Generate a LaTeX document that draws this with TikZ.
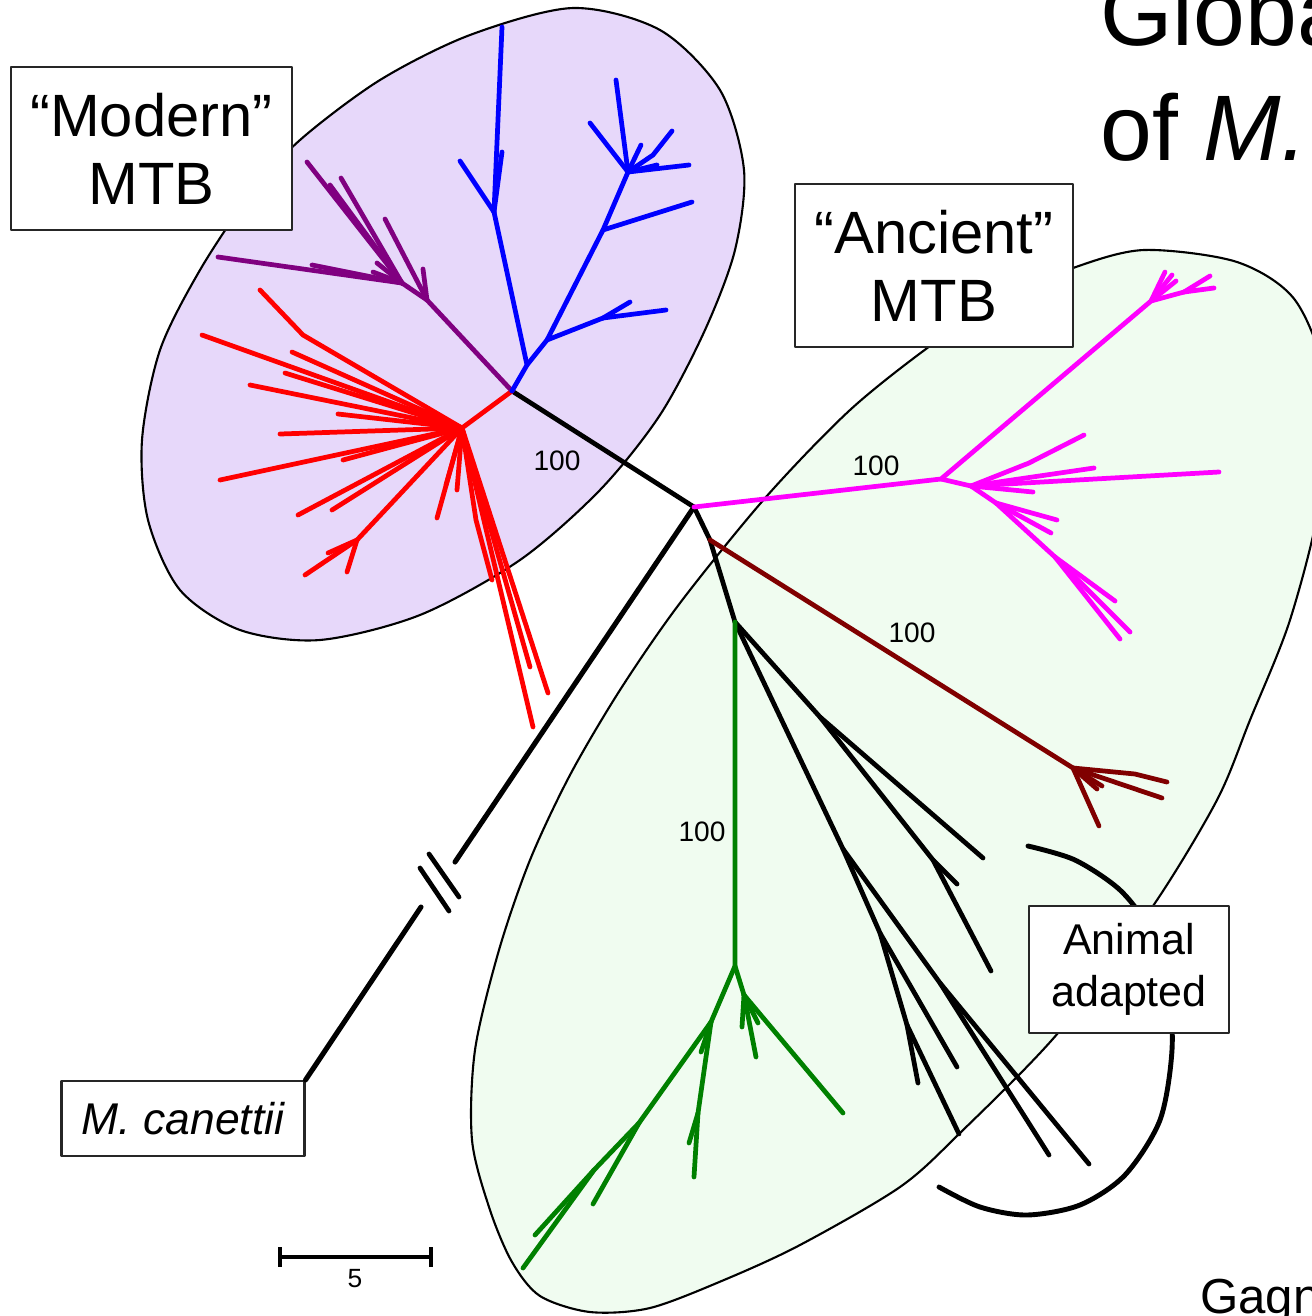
\documentclass[tikz,border=0pt]{standalone}
\usepackage{fontspec}
\setmainfont{Liberation Sans}
\usetikzlibrary{arrows.meta}

\definecolor{modernfill}{RGB}{231,216,250}
\definecolor{ancientfill}{RGB}{240,252,240}
\definecolor{treebrown}{RGB}{128,0,0}
\definecolor{treegreen}{RGB}{0,128,0}
\definecolor{treepurple}{RGB}{128,0,128}
\definecolor{treemagenta}{RGB}{255,0,255}

\begin{document}
\begin{tikzpicture}[
    x=0.02cm, y=-0.02cm,
    line cap=round, line join=round,
    branch/.style={line width=2.7pt},
    blob/.style={draw=black, line width=1.2pt},
    labelbox/.style={draw=black!85, line width=1.2pt, fill=white, align=center, inner sep=0pt},
    support/.style={font=\fontsize{16}{18}\selectfont}
]
\useasboundingbox (0,0) rectangle (1312,1316);
\clip (0,0) rectangle (1312,1316);

\filldraw[blob, fill=modernfill] plot[smooth cycle] coordinates {
    (573,8) (660,30) (720,90) (744,170) (735,250) (705,330) (660,415)
    (600,490) (520,560) (420,615) (320,640) (240,630) (180,590) (148,520)
    (142,440) (160,350) (200,270) (250,195) (300,140) (380,80) (470,35)};
\filldraw[blob, fill=ancientfill] plot[smooth cycle] coordinates {
    (930,346) (1000,300) (1073,268) (1144,250) (1237,262) (1295,300)
    (1325,380) (1320,500) (1290,620) (1250,720) (1217,800) (1153,906)
    (1058,1033) (960,1133) (900,1187) (800,1245) (724,1280) (650,1308)
    (590,1312) (540,1296) (512,1262) (490,1210) (472,1140) (475,1050)
    (499,950) (530,860) (570,775) (620,690) (680,603) (766,497) (850,410)};

\draw[line width=2.8pt] plot[smooth] coordinates {
    (1028,846) (1075,860) (1120,890) (1150,930) (1168,985) (1172,1050)
    (1160,1120) (1125,1175) (1080,1205) (1027,1215) (980,1207) (939,1187)};

\coordinate (root) at (694,507);
\coordinate (modern) at (512,391);
\coordinate (anc) at (710,540);
\coordinate (anc2) at (735,622);

% canettii
\coordinate (cutA) at (455,862);
\coordinate (cutB) at (421,907);
\node[labelbox, minimum width=4.86cm, minimum height=1.5cm,
      font=\fontsize{25.3}{29}\selectfont\itshape] (canettii) at (183,1118.5) {M. canettii};
\draw[line width=2.9pt] (root) -- (cutA);
\draw[line width=2.9pt] (cutB) -- (canettii.north east);
\draw[line width=2.7pt] (420,868) -- (449,911);
\draw[line width=2.7pt] (429,854) -- (459,897);

\draw[branch] (modern) -- (root) -- (anc) -- (anc2);

% modern: red
\coordinate (rdA) at (462,428);
\coordinate (rdB) at (357,540);
\draw[branch, red] (modern) -- (rdA);
\draw[branch, red] (rdA) -- (303,335) -- (260,290);
\draw[branch, red] (rdA) -- (476,520) -- (492,580);
\draw[branch, red] (rdA) -- (rdB) -- (305,575);
\draw[branch, red] (rdB) -- (347,572);
\draw[branch, red] (rdB) -- (328,553);
\foreach \p in {(202,335),(292,352),(285,373),(250,385),(338,414),(280,434),
    (220,480),(343,460),(298,515),(332,510),(437,518),(457,490),(446,485),
    (530,667),(533,727),(548,693)}
    \draw[branch, red] (rdA) -- \p;

% modern: purple
\coordinate (puA) at (427,300);
\coordinate (puB) at (402,283);
\draw[branch, treepurple] (modern) -- (puA) -- (puB);
\foreach \p in {(218,257),(312,265),(373,272),(307,162),(330,185),(341,178),(377,263)}
    \draw[branch, treepurple] (puB) -- \p;
\draw[branch, treepurple] (puA) -- (385,219);
\draw[branch, treepurple] (puA) -- (423,269);

% modern: blue
\coordinate (blA) at (527,365);
\coordinate (blB) at (494,212);
\coordinate (blC) at (547,340);
\coordinate (blD) at (603,318);
\coordinate (blE) at (603,230);
\coordinate (blF) at (628,172);
\draw[branch, blue] (modern) -- (blA) -- (blB);
\draw[branch, blue] (blA) -- (blC) -- (blE) -- (blF);
\draw[branch, blue] (blC) -- (blD);
\foreach \p in {(460,161),(502,27),(502,152)}
    \draw[branch, blue] (blB) -- \p;
\draw[branch, blue] (blD) -- (666,310);
\draw[branch, blue] (blD) -- (630,302);
\draw[branch, blue] (blE) -- (692,202);
\draw[branch, blue] (blF) -- (653,155) -- (672,131);
\foreach \p in {(590,123),(616,80),(689,165),(641,145),(657,165)}
    \draw[branch, blue] (blF) -- \p;

% ancient: magenta
\coordinate (mgA) at (941,479);
\coordinate (mgT) at (1151,301);
\coordinate (mgT2) at (1184,292);
\coordinate (mgB) at (971,486);
\coordinate (mgC) at (996,503);
\coordinate (mgD) at (1055,557);
\draw[branch, treemagenta] (root) -- (mgA) -- (mgT) -- (mgT2);
\draw[branch, treemagenta] (mgA) -- (mgB) -- (mgC) -- (mgD);
\foreach \p in {(1165,272),(1172,275),(1176,281)}
    \draw[branch, treemagenta] (mgT) -- \p;
\draw[branch, treemagenta] (mgT2) -- (1210,276);
\draw[branch, treemagenta] (mgT2) -- (1214,288);
\draw[branch, treemagenta] (mgB) -- (1029,463) -- (1084,435);
\foreach \p in {(1094,468),(1219,472),(1033,492)}
    \draw[branch, treemagenta] (mgB) -- \p;
\draw[branch, treemagenta] (mgC) -- (1057,520);
\draw[branch, treemagenta] (mgC) -- (1051,533);
\foreach \p in {(1115,601),(1130,632),(1120,639)}
    \draw[branch, treemagenta] (mgD) -- \p;

% ancient: brown
\coordinate (brA) at (1073,768);
\draw[branch, treebrown] (anc) -- (brA) -- (1135,774) -- (1167,782);
\foreach \p in {(1162,798),(1099,826),(1097,789),(1102,786)}
    \draw[branch, treebrown] (brA) -- \p;

% animal adapted
\coordinate (bkE) at (820,717);
\coordinate (bkF) at (933,860);
\coordinate (bkG) at (843,849);
\coordinate (bkH) at (880,933);
\coordinate (bkI) at (907,1025);
\coordinate (bkJ) at (940,983);
\draw[branch] (anc2) -- (bkE) -- (983,858);
\draw[branch] (bkE) -- (bkF) -- (957,884);
\draw[branch] (bkF) -- (991,971);
\draw[branch] (anc2) -- (bkG) -- (bkH) -- (bkI) -- (918,1083);
\draw[branch] (bkI) -- (959,1134);
\draw[branch] (bkH) -- (957,1067);
\draw[branch] (bkG) -- (bkJ) -- (1049,1155);
\draw[branch] (bkJ) -- (1089,1164);

% ancient: green
\coordinate (grK) at (735,966);
\coordinate (grL) at (711,1022);
\coordinate (grM) at (744,995);
\coordinate (grN) at (639,1123);
\coordinate (grO) at (594,1170);
\coordinate (grP) at (698,1113);
\draw[branch, treegreen] (anc2) -- (grK) -- (grL) -- (grN) -- (grO) -- (535,1235);
\draw[branch, treegreen] (grO) -- (523,1268);
\draw[branch, treegreen] (grN) -- (593,1204);
\draw[branch, treegreen] (grL) -- (grP) -- (694,1177);
\draw[branch, treegreen] (grP) -- (689,1143);
\draw[branch, treegreen] (grL) -- (701,1052);
\draw[branch, treegreen] (grK) -- (grM);
\foreach \p in {(742,1027),(756,1057),(758,1023),(843,1113)}
    \draw[branch, treegreen] (grM) -- \p;

\node[support] (bsModern) at (557,461) {100};
\node[support] (bsMagenta) at (876,466) {100};
\node[support] (bsBrown) at (912,633) {100};
\node[support] (bsGreen) at (702,832) {100};

\node[labelbox, minimum width=5.62cm, minimum height=3.26cm,
      font=\fontsize{34}{38.7}\selectfont] (modernbox) at (151.5,148.5) {``Modern''\\MTB};
\node[labelbox, minimum width=5.56cm, minimum height=3.26cm,
      font=\fontsize{34}{38.7}\selectfont] (ancientbox) at (934,265.5) {``Ancient''\\MTB};
\node[labelbox, minimum width=4.0cm, minimum height=2.54cm,
      font=\fontsize{24.5}{29.6}\selectfont] (animalbox) at (1129,969.5) {Animal\\adapted};

\coordinate (sbL) at (278,1257);
\coordinate (sbR) at (433,1257);
\draw[line width=2.4pt, {Bar[width=11pt]}-{Bar[width=11pt]}] (sbL) -- (sbR);
\node[font=\fontsize{15}{17}\selectfont] (sbText) at (355,1279) {5};

\node[anchor=base west, inner sep=0pt, font=\fontsize{53}{60}\selectfont] (title1) at (1100,45) {Globa};
\node[anchor=base west, inner sep=0pt, font=\fontsize{53}{60}\selectfont] (title2) at (1100,160) {of \textit{M.}};
\node[anchor=base west, inner sep=0pt, font=\fontsize{28}{32}\selectfont] (credit) at (1200,1313) {Gagn};

\end{tikzpicture}
\end{document}
